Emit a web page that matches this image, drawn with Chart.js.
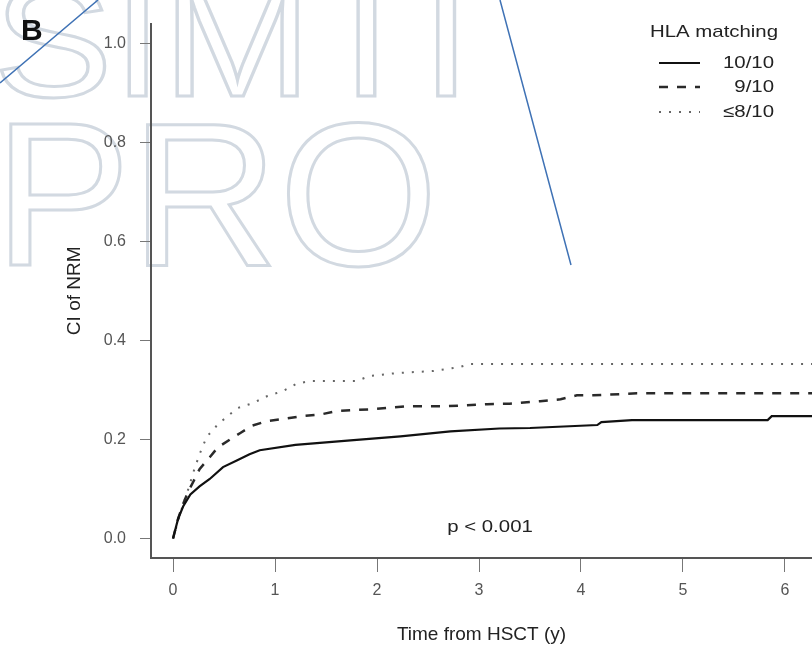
<!DOCTYPE html>
<html>
<head>
<meta charset="utf-8">
<script src="https://cdn.jsdelivr.net/npm/chart.js@4.4.0/dist/chart.umd.min.js"></script>
<style>
  html, body { margin: 0; padding: 0; background: #ffffff; }
  #wrap { width: 812px; height: 647px; }
</style>
</head>
<body>
<div id="wrap"><canvas id="grafico" width="812" height="647"></canvas></div>
<script>
// Dados (tempo em anos, incidência cumulativa de NRM)
const tempo1010 = [0, 0.05, 0.1, 0.17, 0.26, 0.36, 0.49, 0.63, 0.75, 0.85, 1.2, 1.74, 2.23, 2.72, 3.2, 3.5, 4.16, 4.2, 4.5, 5.83, 5.87, 6.3]
const ci1010 = [0, 0.04, 0.065, 0.089, 0.105, 0.12, 0.144, 0.158, 0.17, 0.178, 0.189, 0.198, 0.206, 0.216, 0.222, 0.223, 0.229, 0.235, 0.239, 0.239, 0.247, 0.247]

const tempo910 = [0, 0.05, 0.1, 0.15, 0.2, 0.26, 0.36, 0.44, 0.56, 0.66, 0.78, 0.92, 1.08, 1.26, 1.44, 1.6, 1.76, 1.96, 2.29, 2.69, 3.08, 3.3, 3.6, 3.8, 3.96, 4.12, 4.55, 6.3]
const ci910 = [0, 0.04, 0.07, 0.095, 0.115, 0.14, 0.164, 0.184, 0.2, 0.213, 0.228, 0.237, 0.241, 0.247, 0.25, 0.257, 0.259, 0.261, 0.267, 0.267, 0.271, 0.272, 0.277, 0.281, 0.289, 0.289, 0.293, 0.293]

const tempo810 = [0, 0.1, 0.15, 0.2, 0.26, 0.33, 0.43, 0.49, 0.63, 0.78, 0.92, 1.08, 1.21, 1.34, 1.8, 1.93, 2.2, 2.55, 2.81, 2.91, 6.3]
const ci810 = [0, 0.07, 0.1, 0.134, 0.17, 0.205, 0.228, 0.239, 0.263, 0.273, 0.287, 0.298, 0.312, 0.318, 0.318, 0.328, 0.334, 0.338, 0.346, 0.352, 0.352]

const rotulosLegenda = ["10/10", "9/10", "≤8/10"]
const ticksX = [0, 1, 2, 3, 4, 5, 6]
const ticksY = [0, 0.2, 0.4, 0.6, 0.8, 1.0]

const fonte = '"Liberation Sans", Arial, sans-serif'

function pontos(tempos, valores) {
    return tempos.map((t, i) => ({ x: t, y: valores[i] }))
}

// Escreve um texto um pouco esticado na horizontal (a figura original é mais larga)
function textoLargo(ctx, texto, x, y, alinhamento) {
    const esticar = 1.2
    ctx.save()
    ctx.translate(x, y)
    ctx.scale(esticar, 1)
    ctx.textAlign = alinhamento
    ctx.fillText(texto, 0, 0)
    ctx.restore()
}

// Marca d'água, letra do painel, linhas azuis, valor de p e legenda
const fundo = {
    id: 'fundo',
    beforeDraw(chart) {
        const ctx = chart.ctx
        ctx.save()
        ctx.fillStyle = '#ffffff'
        ctx.fillRect(0, 0, chart.width, chart.height)
        ctx.strokeStyle = '#d2d9e1'
        ctx.lineWidth = 3
        ctx.save()
        ctx.scale(1.12, 1)
        ctx.font = '160px ' + fonte
        ctx.strokeText('SIMTI', -6, 96)
        ctx.restore()
        ctx.font = '205px ' + fonte
        ctx.strokeText('PRO', -6, 265)
        ctx.restore()
    },
    afterDraw(chart) {
        const ctx = chart.ctx
        ctx.save()
        ctx.fillStyle = '#111'
        ctx.font = 'bold 30px ' + fonte
        ctx.textBaseline = 'alphabetic'
        ctx.fillText('B', 21, 40)
        ctx.strokeStyle = '#3f72b5'
        ctx.lineWidth = 1.5
        ctx.beginPath()
        ctx.moveTo(0, 83); ctx.lineTo(98, 0)
        ctx.moveTo(500, 0); ctx.lineTo(571, 265)
        ctx.stroke()

        // Valor de p
        ctx.fillStyle = '#222'
        ctx.font = '17px ' + fonte
        ctx.textBaseline = 'middle'
        textoLargo(ctx, 'p < 0.001', 490, 527, 'center')

        // Legenda
        textoLargo(ctx, 'HLA matching', 714, 32, 'center')
        const linhasY = [63, 87, 112]
        chart.data.datasets.forEach((ds, i) => {
            ctx.strokeStyle = ds.borderColor
            ctx.lineWidth = ds.borderWidth
            ctx.setLineDash(ds.borderDash)
            ctx.beginPath()
            ctx.moveTo(659, linhasY[i]); ctx.lineTo(700, linhasY[i])
            ctx.stroke()
            ctx.setLineDash([])
            textoLargo(ctx, ds.label, 774, linhasY[i], 'right')
        })
        ctx.restore()
    }
}

const config = {
    type: 'line',
    data: {
        datasets: [
            { label: rotulosLegenda[0], data: pontos(tempo1010, ci1010), borderColor: '#111111', borderWidth: 2.2, borderDash: [], pointRadius: 0, tension: 0 },
            { label: rotulosLegenda[1], data: pontos(tempo910, ci910), borderColor: '#2a2a2a', borderWidth: 2.5, borderDash: [9, 9], pointRadius: 0, tension: 0 },
            { label: rotulosLegenda[2], data: pontos(tempo810, ci810), borderColor: '#666666', borderWidth: 2, borderDash: [2, 8], pointRadius: 0, tension: 0 }
        ]
    },
    options: {
        responsive: false,
        animation: false,
        layout: { padding: { top: 12, right: 0, bottom: 0, left: 0 } },
        plugins: { legend: { display: false }, tooltip: { enabled: false } },
        scales: {
            x: {
                type: 'linear',
                min: -0.216,
                max: 6.265,
                afterBuildTicks: s => { s.ticks = ticksX.map(v => ({ value: v })) },
                afterFit: s => { s.height = 89 },
                ticks: { callback: v => String(v), color: '#555', font: { family: fonte, size: 16 }, padding: 9, maxRotation: 0, autoSkip: false },
                grid: { drawOnChartArea: false, drawTicks: true, tickLength: 14, color: '#777', lineWidth: 1 },
                border: { display: true, color: '#555', width: 2 },
                title: { display: true, text: 'Time from HSCT (y)', color: '#222', font: { family: fonte, size: 19 }, padding: { top: 0, bottom: 1 } }
            },
            y: {
                type: 'linear',
                min: -0.0395,
                max: 1.0395,
                afterBuildTicks: s => { s.ticks = ticksY.map(v => ({ value: v })) },
                afterFit: s => { s.width = 151 },
                ticks: { callback: v => v.toFixed(1), color: '#555', font: { family: fonte, size: 16 }, padding: 14 },
                grid: { drawOnChartArea: false, drawTicks: true, tickLength: 11, color: '#777', lineWidth: 1 },
                border: { display: true, color: '#555', width: 2 },
                title: { display: true, text: 'CI of NRM', color: '#222', font: { family: fonte, size: 19 }, padding: { top: 63, bottom: 0 } }
            }
        }
    },
    plugins: [fundo]
}

new Chart(document.getElementById('grafico').getContext('2d'), config)
</script>
</body>
</html>
